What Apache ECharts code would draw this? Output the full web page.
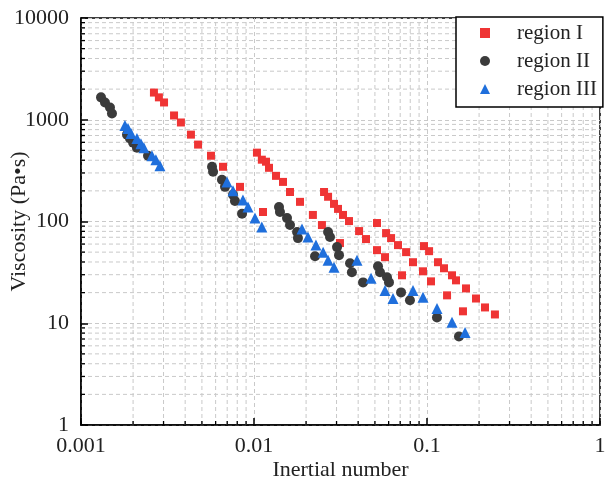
<!DOCTYPE html>
<html>
<head>
<meta charset="utf-8">
<script src="https://cdn.jsdelivr.net/npm/echarts@6/dist/echarts.min.js"></script>
<style>html,body{margin:0;padding:0;background:#fff}#c{width:609px;height:485px}</style>
</head>
<body>
<div id="c"></div>
<script>
// ---- data (Inertial number, Viscosity Pa·s) ----
const regionI = [
  [0.00264,1850],[0.00282,1660],[0.00302,1479],[0.00345,1102],[0.00378,940],[0.00432,714],[0.00475,570],[0.00564,443],[0.00662,345],[0.0083,219],[0.01127,124],
  [0.0104,475],[0.0111,405],[0.01173,387],[0.01221,337],[0.0134,281],[0.01471,245],[0.01615,195],[0.01845,156],[0.0219,116],[0.0247,92.3],[0.0314,61.4],
  [0.0254,195],[0.0268,175],[0.029,149],[0.0306,133],[0.0327,116],[0.0354,101],[0.0405,80.5],[0.0444,67.2],[0.0514,52.3],[0.0572,44.6],[0.0717,29.6],
  [0.0514,96.6],[0.058,76.9],[0.062,68.7],[0.068,58.6],[0.0757,50],[0.083,39.8],[0.0948,32.4],[0.1055,25.8],[0.1306,18.8],[0.1614,13.1],
  [0.0961,57.3],[0.1028,51.1],[0.1158,39.8],[0.1254,34.7],[0.1395,29.6],[0.1471,26.4],[0.168,22],[0.192,17.5],[0.2164,14.3],[0.247,12.2]
];
const regionII = [
  [0.001305,1660],[0.001376,1479],[0.001471,1321],[0.00151,1153],
  [0.001845,714],[0.00192,653],[0.002,596],[0.002106,532],[0.00244,443],
  [0.00572,345],[0.0058,308],[0.00653,257],[0.0068,219],[0.00756,183],[0.00776,159],[0.00853,119],
  [0.01395,139],[0.01413,124],[0.01552,108],[0.01615,92.3],[0.01774,78.7],[0.01795,68.7],[0.02253,45.6],
  [0.0268,78.7],[0.0275,70.3],[0.0302,56],[0.031,46.7],[0.0359,38.9],[0.0368,31.7],[0.0427,25.2],
  [0.0521,36.3],[0.0535,31.7],[0.0587,28.3],[0.0603,25.2],[0.0708,20.1],[0.0797,16.8],[0.1142,11.4],[0.153,7.4]
];
const regionIII = [
  [0.001795,877],[0.00187,820],[0.001945,731],[0.002106,653],[0.00222,582],[0.00231,532],[0.00257,443],[0.00271,405],[0.00286,353],
  [0.00698,245],[0.00756,200],[0.00863,163],[0.00923,139],[0.01013,108],[0.0111,88.3],
  [0.01894,84.3],[0.0205,70.3],[0.0228,58.6],[0.0251,50],[0.0268,41.7],[0.029,35.6],[0.0394,41.7],
  [0.0475,27.7],[0.0572,21],[0.0636,17.5],[0.083,21],[0.0948,18],[0.1142,14],[0.1395,10.2],[0.166,8.1]
];
const seriesNames = ['region I','region II','region III'];
const xTickLabels = ['0.001','0.01','0.1','1'];
const yTickLabels = ['1','10','100','1000','10000'];
const xName = 'Inertial number';
const yName = 'Viscosity (Pa\u2022s)';

const X_MIN = 0.001, X_MAX = 1, Y_MIN = 1, Y_MAX = 10000;
function minorValues(lo, hi) {
  const out = [];
  for (let e = Math.round(Math.log10(lo)); e < Math.round(Math.log10(hi)); e++) {
    for (let m = 2; m <= 9; m++) out.push(m * Math.pow(10, e));
  }
  return out;
}
const minorX = minorValues(X_MIN, X_MAX);
const minorY = minorValues(Y_MIN, Y_MAX);

const FONT = '"Liberation Serif", "Times New Roman", serif';
const gridDash = { stroke: '#c9c9c9', lineWidth: 1, lineDash: [4, 3] };

const chart = echarts.init(document.getElementById('c'), null, { renderer: 'canvas' });
chart.setOption({
  animation: false,
  backgroundColor: '#fff',
  grid: { left: 81, right: 9, top: 18, bottom: 60, containLabel: false, outerBoundsMode: 'none',
    show: true, borderColor: '#000', borderWidth: 1.5, backgroundColor: 'transparent' },
  xAxis: {
    type: 'log', logBase: 10, min: X_MIN, max: X_MAX, splitNumber: 3,
    name: xName, nameLocation: 'middle', nameGap: 34, nameMoveOverlap: false,
    nameTextStyle: { fontFamily: FONT, fontSize: 22, color: '#222' },
    axisLine: { show: true, lineStyle: { color: '#000', width: 1.5 } },
    axisTick: { show: true, inside: true, length: 7, lineStyle: { color: '#000', width: 1.5 } },
    axisLabel: { margin: 10, fontFamily: FONT, fontSize: 22, color: '#222',
      formatter: v => xTickLabels[Math.round(Math.log10(v) - Math.log10(X_MIN))] },
    splitLine: { show: true, lineStyle: { color: '#c9c9c9', type: [4, 3], width: 1 } }
  },
  yAxis: {
    type: 'log', logBase: 10, min: Y_MIN, max: Y_MAX, splitNumber: 4,
    name: yName, nameLocation: 'middle', nameGap: 51, nameMoveOverlap: false,
    nameTextStyle: { fontFamily: FONT, fontSize: 22, color: '#222' },
    axisLine: { show: true, lineStyle: { color: '#000', width: 1.5 } },
    axisTick: { show: true, inside: true, length: 7, lineStyle: { color: '#000', width: 1.5 } },
    axisLabel: { margin: 12, fontFamily: FONT, fontSize: 22, color: '#222',
      formatter: v => yTickLabels[Math.round(Math.log10(v) - Math.log10(Y_MIN))] },
    splitLine: { show: true, lineStyle: { color: '#c9c9c9', type: [4, 3], width: 1 } }
  },
  legend: {
    data: seriesNames, orient: 'vertical', left: 456, top: 17,
    padding: [5, 6, 7, 24], itemGap: 6, itemWidth: 10, itemHeight: 10,
    borderColor: '#000', borderWidth: 1.5, backgroundColor: '#fff',
    textStyle: { fontFamily: FONT, fontSize: 21, color: '#222', lineHeight: 22, padding: [0, 0, 0, 22] }
  },
  series: [
    {
      type: 'custom', name: 'xminor', silent: true, z: 1, clip: true,
      data: minorX.map(v => [v, Y_MIN]),
      renderItem: (params, api) => {
        const a = api.coord([api.value(0), Y_MIN]);
        const b = api.coord([api.value(0), Y_MAX]);
        return { type: 'group', children: [
          { type: 'line', shape: { x1: a[0], y1: a[1], x2: b[0], y2: b[1] }, style: gridDash },
          { type: 'line', shape: { x1: a[0], y1: a[1], x2: a[0], y2: a[1] - 4 }, style: { stroke: '#000', lineWidth: 1.3 } }
        ]};
      }
    },
    {
      type: 'custom', name: 'yminor', silent: true, z: 1, clip: true,
      data: minorY.map(v => [X_MIN, v]),
      renderItem: (params, api) => {
        const a = api.coord([X_MIN, api.value(1)]);
        const b = api.coord([X_MAX, api.value(1)]);
        return { type: 'group', children: [
          { type: 'line', shape: { x1: a[0], y1: a[1], x2: b[0], y2: b[1] }, style: gridDash },
          { type: 'line', shape: { x1: a[0], y1: a[1], x2: a[0] + 4, y2: a[1] }, style: { stroke: '#000', lineWidth: 1.3 } }
        ]};
      }
    },
    { type: 'scatter', name: seriesNames[0], data: regionI, symbol: 'rect', symbolSize: 8, z: 5,
      itemStyle: { color: '#ef3434', opacity: 1 } },
    { type: 'scatter', name: seriesNames[1], data: regionII, symbol: 'circle', symbolSize: 10, z: 6,
      itemStyle: { color: '#3b3b3b', opacity: 1 } },
    { type: 'scatter', name: seriesNames[2], data: regionIII, symbol: 'triangle', symbolSize: 11, z: 7,
      itemStyle: { color: '#1f6fdc', opacity: 1 } }
  ]
});
</script>
</body>
</html>
